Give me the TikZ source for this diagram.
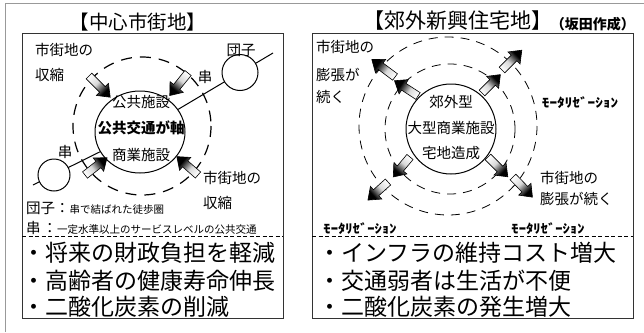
\documentclass[tikz,border=0pt]{standalone}
\usepackage{fontspec}
\usepackage{graphicx}
\setmainfont{Noto Sans CJK JP}
\usetikzlibrary{shapes.geometric}
\newcommand\fsz[1]{\fontsize{#1}{#1}\selectfont}
\pgfdeclarehorizontalshading{barsh}{100bp}{color(0bp)=(white); color(25bp)=(white); color(43bp)=(white!85!black); color(62bp)=(black); color(100bp)=(black)}
\newcommand\barr[4]{\begin{scope}[transform canvas={shift={(#1,#2)}, rotate=#3}]
\shade[barrowst] (0,-4) -- (#4-11,-4) -- (#4-11,-8.5) -- (#4,0) -- (#4-11,8.5) -- (#4-11,4) -- (0,4) -- cycle;
\end{scope}}
\tikzset{
  txt/.style={inner sep=0pt, font=\fsz{14.5}},
  txtw/.style={txt, anchor=west},
  bul/.style={inner sep=0pt, anchor=west, font=\fsz{23}},
  moto/.style={inner sep=0pt, font=\bfseries\fsz{12.5}},
  panel/.style={draw=black!80, line width=1pt},
  dashL/.style={draw, line width=1.2pt, dash pattern=on 11pt off 8pt},
  dashR/.style={draw, line width=0.8pt, dash pattern=on 9pt off 7pt},
  sep/.style={draw, line width=0.7pt, dash pattern=on 4pt off 2.5pt},
  hub/.style={draw, line width=1pt, ellipse, inner sep=0pt},
  dango/.style={draw, line width=1pt, circle, fill=white, inner sep=0pt},
  barrowst/.style={draw=black, line width=0.6pt, shading=barsh, shading angle=0}
}
\begin{document}
\begin{tikzpicture}[x=1pt,y=-1pt]
\useasboundingbox (0,0) rectangle (644,332);
% outer frame
\draw[black!40, line width=0.8pt] (5,332) -- (5,3) -- (644,3);
% titles
\node[inner sep=0pt, font=\fsz{19.5}] (t1) at (138,22) {【中心市街地】};
\node[inner sep=0pt, font=\fsz{21}] (t2) at (458,21) {【郊外新興住宅地】};
\node[inner sep=0pt, anchor=east, font=\fsz{13}] (t3) at (635,24) {\resizebox{84pt}{!}{\bfseries （坂田作成）}};
% panels
\draw[panel] (22,33) rectangle (283,318);
\draw[panel] (312,33) rectangle (633,318);

% ---------- left panel ----------
\draw[dashL] (142,126) circle (69);
\node[hub, minimum width=90pt, minimum height=82pt] (hubL) at (140,132) {};
\coordinate (endA) at (273,53);
\coordinate (endB) at (33,185);
\draw[line width=1pt] (hubL) -- (endA);
\draw[line width=1pt] (hubL) -- (endB);
\node[dango, minimum size=36pt] (dA) at (240,72.5) {};
\node[dango, minimum size=32pt] (dB) at (54,175) {};
\node[txt] (h1) at (141,102) {公共施設};
\node[txt, font=\bfseries\fsz{14.5}] (h2) at (141,128) {公共交通が軸};
\node[txt] (h3) at (141,155) {商業施設};
\barr{89}{76}{-45}{30}
\barr{188}{73}{-129}{29}
\barr{85}{175}{38}{28}
\barr{198}{175}{139}{28}
\node[txtw] (l1) at (35,50) {市街地の};
\node[txtw] (l2) at (35,75) {収縮};
\node[txt] (l3) at (241,50) {団子};
\node[txt] (l4) at (205,77) {串};
\node[txt] (l5) at (65,152) {串};
\node[txtw] (l6) at (203,178) {市街地の};
\node[txtw] (l7) at (203,203) {収縮};
\node[txtw] (l8) at (26,208) {団子：{\fsz{10.5}串で結ばれた徒歩圏}};
\node[txtw] (l9) at (26,228) {串\hspace{2pt}：{\fsz{10.5}一定水準以上のサービスレベルの公共交通}};
\draw[sep] (22,236.5) -- (283,236.5);
\node[bul] (b1) at (22,253) {・将来の財政負担を軽減};
\node[bul] (b2) at (22,281) {・高齢者の健康寿命伸長};
\node[bul] (b3) at (22,307) {・二酸化炭素の削減};

% ---------- right panel ----------
\draw[dashR] (448,126) circle (89);
\draw[dashR] (450,129) circle (65);
\node[hub, circle, minimum size=90pt] (hubR) at (451,129) {};
\node[txt] (r1) at (451,102) {郊外型};
\node[txt] (r2) at (451,128) {大型商業施設};
\node[txt] (r3) at (451,153) {宅地造成};
\barr{395}{77}{143}{29}
\barr{418}{96}{147}{28}
\barr{482}{93}{45}{26}
\barr{502}{70}{45}{28}
\barr{410}{157}{-130}{26}
\barr{388}{182}{-138}{27}
\barr{488}{157}{-45}{28}
\barr{513}{177}{-46}{28}
\node[txtw] (m1) at (316,47) {市街地の};
\node[txtw] (m2) at (316,75) {膨張が};
\node[txtw] (m3) at (316,97) {続く};
\node[txtw] (m4) at (540,178) {市街地の};
\node[txtw] (m5) at (540,199) {膨張が続く};
\node[moto] (z1) at (580,103) {\scalebox{1.22}[1]{ﾓｰﾀﾘｾﾞｰｼｮﾝ}};
\node[moto] (z2) at (360,229) {\scalebox{1.17}[1]{ﾓｰﾀﾘｾﾞｰｼｮﾝ}};
\node[moto] (z3) at (548,229) {\scalebox{1.17}[1]{ﾓｰﾀﾘｾﾞｰｼｮﾝ}};
\draw[sep] (312,236.5) -- (633,236.5);
\node[bul] (c1) at (318,253) {・インフラの維持コスト増大};
\node[bul] (c2) at (318,281) {・交通弱者は生活が不便};
\node[bul] (c3) at (318,307) {・二酸化炭素の発生増大};
\end{tikzpicture}
\end{document}
